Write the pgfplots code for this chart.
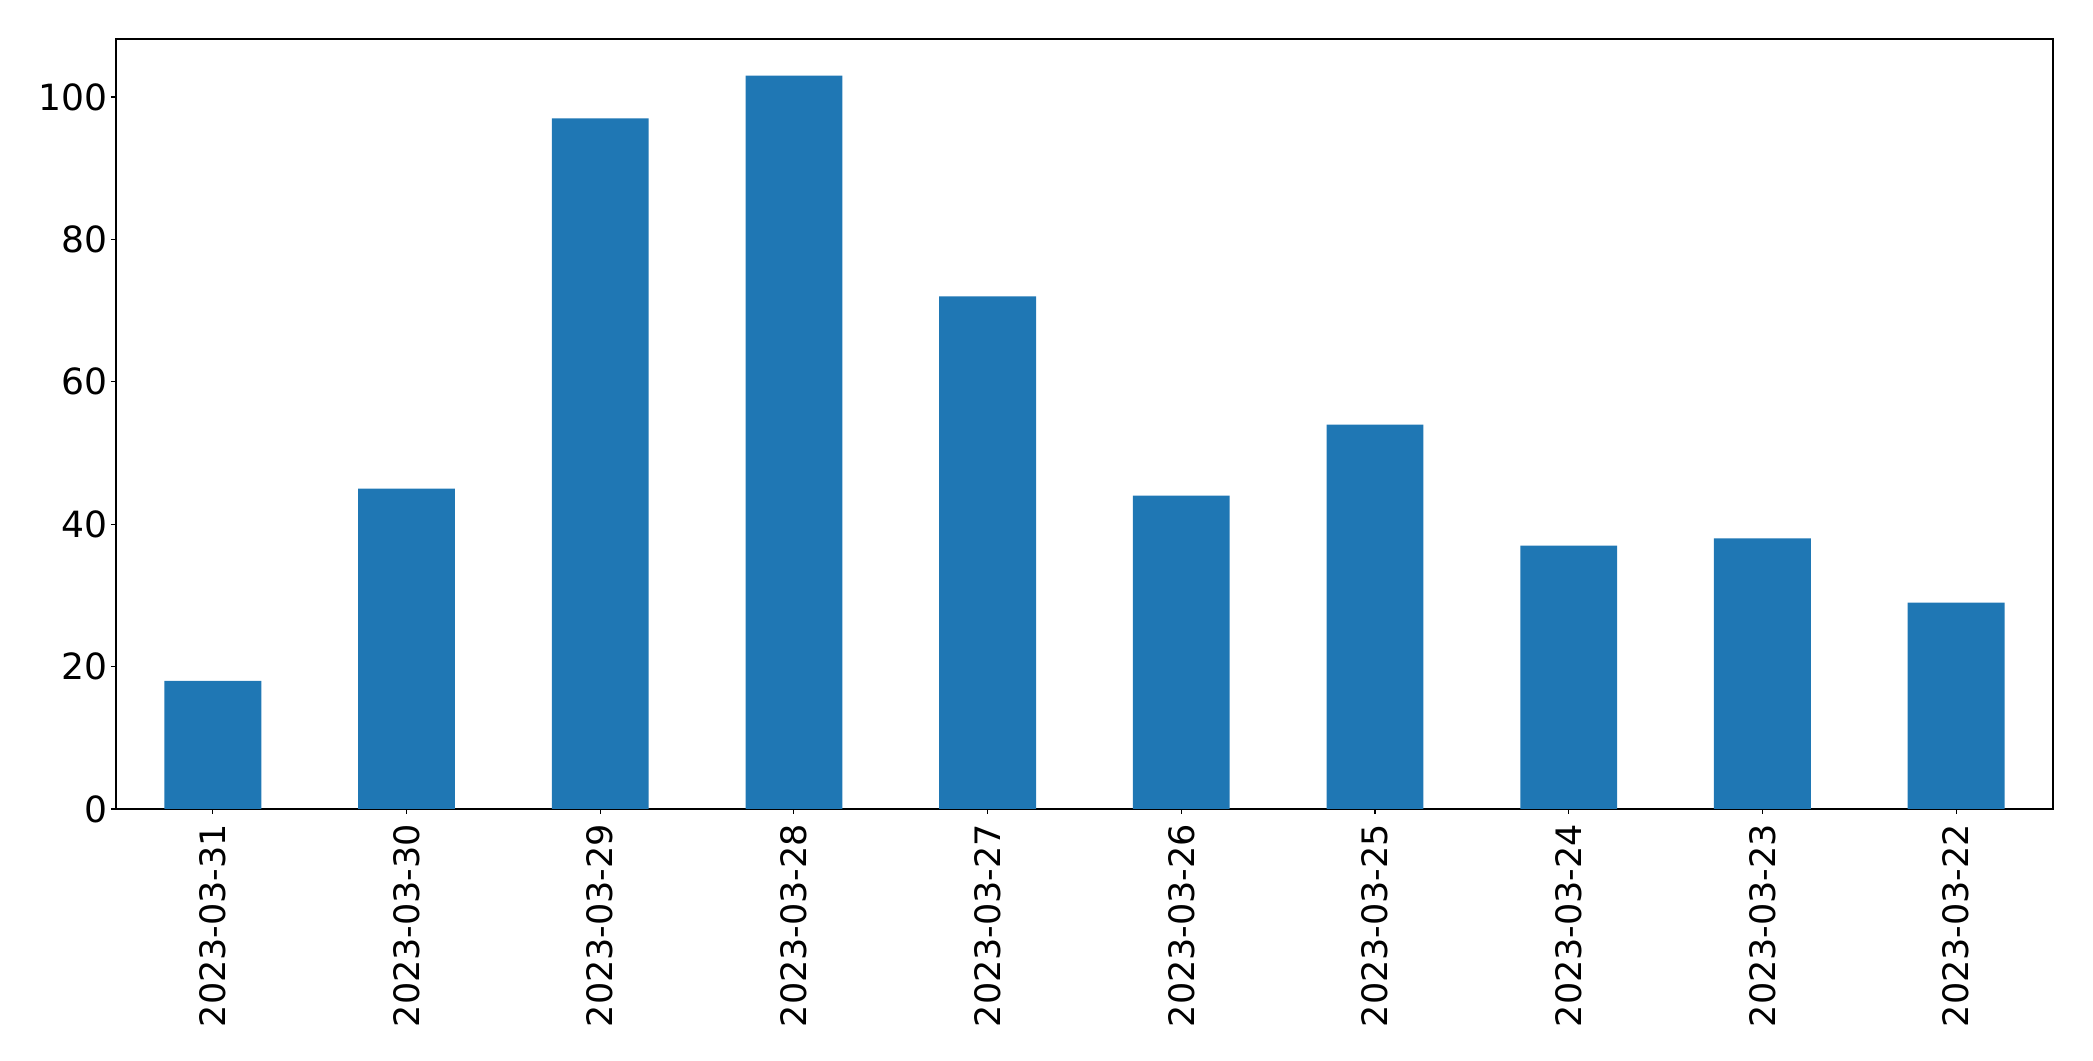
\documentclass[border=0pt]{standalone}
\usepackage{pgfplots}
\pgfplotsset{compat=1.18}
\usepackage{fontspec}
\setmainfont{DejaVu Sans}
\definecolor{mplblue}{HTML}{1F77B4}
\begin{document}
\begin{tikzpicture}
\path (-41.76pt,-90.72pt) rectangle (711.72pt,291.24pt);
\begin{axis}[
  at={(0,0)}, anchor=south west,
  scale only axis, width=697.3pt, height=277.2pt,
  xmin=-0.5, xmax=9.5, ymin=0, ymax=108.15,
  xtick={0,...,9},
  xticklabels={2023-03-31,2023-03-30,2023-03-29,2023-03-28,2023-03-27,2023-03-26,2023-03-25,2023-03-24,2023-03-23,2023-03-22},
  xticklabel style={rotate=90, anchor=east, font=\fontsize{12.6}{15}\selectfont},
  yticklabel style={font=\fontsize{13}{15}\selectfont, xshift=2.4pt},
  ytick={0,20,40,60,80,100},
  /pgf/number format/assume math mode=true,
  tick align=outside, tick pos=left,
  major tick length=1.8pt,
  axis line style={line width=0.4pt},
  every tick/.style={black, line width=0.4pt},
  ybar, bar width=0.5,
]
\addplot[fill=mplblue, draw=none] coordinates {
(0,18) (1,45) (2,97) (3,103) (4,72) (5,44) (6,54) (7,37) (8,38) (9,29)};
\end{axis}
\end{tikzpicture}
\end{document}
